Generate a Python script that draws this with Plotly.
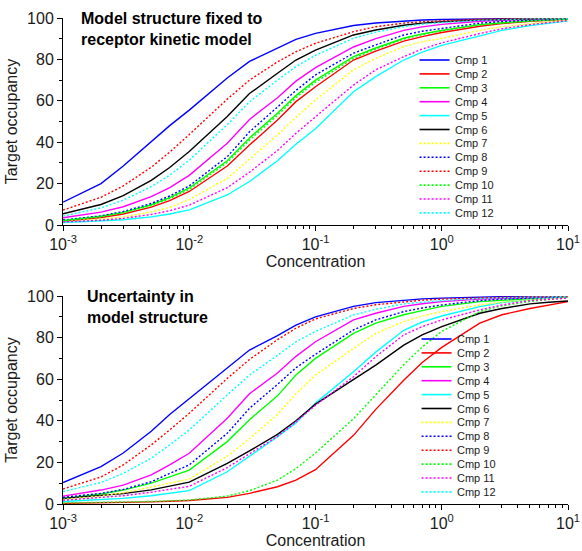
import plotly.graph_objects as go
from plotly.subplots import make_subplots

# ---------------- data ----------------
conc = [0.001, 0.002, 0.003, 0.005, 0.007, 0.01, 0.02, 0.03, 0.05, 0.07,
        0.1, 0.2, 0.3, 0.5, 0.7, 1, 2, 3, 5, 7, 10]

names = ["Cmp 1", "Cmp 2", "Cmp 3", "Cmp 4", "Cmp 5", "Cmp 6",
         "Cmp 7", "Cmp 8", "Cmp 9", "Cmp 10", "Cmp 11", "Cmp 12"]

x_tick_vals = [0.001, 0.01, 0.1, 1, 10]
x_tick_text = ["10<sup>-3</sup>", "10<sup>-2</sup>", "10<sup>-1</sup>", "10<sup>0</sup>", "10<sup>1</sup>"]
x_minor_vals = [m * d for d in (0.001, 0.01, 0.1, 1) for m in (2, 3, 4, 5, 6, 7, 8, 9)]

# top panel: model structure fixed to receptor kinetic model
top_cmp1 = [11, 20, 28.5, 40, 48, 55.5, 71, 79, 85.5, 89.7, 92.6, 96.4, 97.6, 98.6, 99, 99.3, 99.6, 99.7, 99.8, 99.9, 99.9]
top_cmp2 = [1.8, 3.6, 5.3, 8.6, 11.8, 16.2, 28.5, 38.6, 50.7, 59.6, 66.8, 79.7, 84, 88.8, 91, 93, 96, 97.3, 98.4, 98.9, 99.4]
top_cmp3 = [2.2, 4.2, 6.1, 9.8, 13.2, 17.9, 31, 42, 54, 62.5, 70, 81.3, 85.5, 90.2, 92.3, 94, 96.8, 97.8, 98.7, 99.1, 99.5]
top_cmp4 = [3.5, 6.2, 8.8, 13.7, 18.1, 24, 39.5, 51, 61.5, 69.5, 76, 86, 90, 94, 95.7, 96.9, 98.4, 99, 99.4, 99.5, 99.7]
top_cmp5 = [1.2, 1.8, 2.5, 3.9, 5.3, 7.3, 14.5, 21, 31, 39, 46.5, 64.4, 71.7, 79.7, 83.5, 86.8, 91.5, 94, 96.3, 97.5, 98.6]
top_cmp6 = [5.4, 9.9, 14.2, 21.6, 27.8, 35.5, 52.4, 63.5, 73.3, 79.7, 84.5, 91.8, 94.2, 96.5, 97.5, 98.2, 99.1, 99.4, 99.6, 99.7, 99.8]
top_cmp7 = [1.8, 2.8, 3.9, 6.3, 8.5, 12.3, 22.5, 32, 43.5, 52, 60.4, 75, 80.5, 86.2, 88.5, 90.2, 94, 95.8, 97.4, 98.2, 99]
top_cmp8 = [2.4, 4.4, 6.5, 10.4, 14, 18.9, 33, 45, 57, 65, 72.5, 83, 87, 91.8, 93.6, 95, 97.5, 98.3, 99, 99.3, 99.6]
top_cmp9 = [7.2, 13.4, 18.9, 27.9, 35.2, 43.7, 60.8, 70, 78.8, 83.7, 87.8, 93.4, 95.8, 97.5, 98.2, 98.7, 99.4, 99.6, 99.7, 99.8, 99.9]
top_cmp10 = [2.1, 4, 5.9, 9.4, 12.7, 17.2, 30.2, 41, 53, 61.5, 69, 80.5, 85, 89.8, 92, 93.8, 96.7, 97.7, 98.6, 99, 99.4]
top_cmp11 = [1.5, 2.3, 3.2, 5.1, 6.9, 9.6, 18, 25.5, 36, 44.3, 52.3, 67.6, 75, 81.3, 85, 88, 92.5, 94.8, 96.8, 97.8, 98.8]
top_cmp12 = [4.3, 8.3, 12, 18.5, 24.1, 31.3, 48.5, 59.5, 70, 76.5, 82, 90.2, 93.2, 95.8, 97, 97.8, 98.9, 99.3, 99.6, 99.7, 99.8]

# bottom panel: uncertainty in model structure
bot_cmp1 = [10.3, 18, 24.5, 35, 43, 50.5, 65.5, 74, 81, 86, 90, 95, 96.8, 98, 98.6, 99, 99.5, 99.7, 99.8, 99.9, 99.9]
bot_cmp2 = [0.3, 0.5, 0.7, 1, 1.3, 1.7, 3.2, 5.1, 8.3, 11.5, 16.5, 33, 45.5, 59.5, 68, 75.3, 87, 91, 94, 95.7, 97.3]
bot_cmp3 = [2.7, 4.8, 6.7, 10, 13, 16.3, 30, 40.5, 52, 62, 70, 82, 87, 91, 93, 95, 97.3, 98, 98.8, 99.2, 99.5]
bot_cmp4 = [3.8, 6.7, 9.1, 14, 18.8, 24.4, 41.2, 53, 63, 71, 78, 88.5, 91.7, 95, 96.3, 97.3, 98.5, 99, 99.3, 99.5, 99.6]
bot_cmp5 = [1.2, 2, 2.7, 4, 5, 6.4, 15.5, 22.8, 32.4, 39, 48.5, 63.6, 73, 83.5, 87.5, 90.4, 94.9, 96.8, 98.2, 98.9, 99.5]
bot_cmp6 = [2.7, 4, 5, 6.8, 8.5, 10.5, 19.5, 25.5, 33.5, 40, 48, 59.6, 66.8, 76.4, 81.3, 85.3, 91.7, 94, 96.2, 97, 97.6]
bot_cmp7 = [2.2, 3.8, 5.4, 8, 10, 12, 23, 31.5, 43, 53, 62, 74.8, 82, 87.7, 90.4, 92.5, 95.7, 97, 98.2, 98.8, 99.3]
bot_cmp8 = [3.2, 5.1, 7, 10.7, 14.7, 18.8, 34, 46, 57.5, 65.5, 72, 83.7, 88.5, 92.5, 94.2, 95.7, 97.8, 98.5, 99, 99.3, 99.5]
bot_cmp9 = [7.2, 13, 18.8, 28.4, 35.6, 43.6, 60.4, 69.5, 79, 84.5, 89, 94, 95.8, 97.3, 98, 98.5, 99.2, 99.4, 99.6, 99.7, 99.8]
bot_cmp10 = [0.5, 0.7, 0.9, 1.2, 1.5, 1.9, 3.8, 6.4, 11.5, 17, 24.5, 41, 52.5, 67, 75.5, 83, 92.5, 95.3, 97.4, 98.4, 99.2]
bot_cmp11 = [1.8, 3, 4, 5.7, 7, 8.5, 17.5, 24, 32.5, 39.5, 47.5, 61.2, 70.8, 81.3, 85.3, 88.5, 93.3, 95.7, 97.8, 98.4, 99]
bot_cmp12 = [6, 10.3, 14.7, 22, 28.4, 35.6, 52.4, 62, 71.5, 78, 83, 90.9, 93.6, 96.2, 97, 97.8, 98.8, 99.2, 99.5, 99.6, 99.7]

top_series = [top_cmp1, top_cmp2, top_cmp3, top_cmp4, top_cmp5, top_cmp6,
              top_cmp7, top_cmp8, top_cmp9, top_cmp10, top_cmp11, top_cmp12]
bot_series = [bot_cmp1, bot_cmp2, bot_cmp3, bot_cmp4, bot_cmp5, bot_cmp6,
              bot_cmp7, bot_cmp8, bot_cmp9, bot_cmp10, bot_cmp11, bot_cmp12]

panel_titles = ["Model structure fixed to<br>receptor kinetic model",
                "Uncertainty in<br>model structure"]
x_title = "Concentration"
y_title = "Target occupancy"

# ---------------- styles ----------------
colors = ["#0000FF", "#FF0000", "#00FF00", "#FF00FF", "#00FFFF", "#000000",
          "#FFFF00", "#0000FF", "#FF0000", "#00FF00", "#FF00FF", "#00FFFF"]
dashes = ["solid"] * 6 + ["2px,2px"] * 6

W, H = 582, 551
L, R = 63.3, 568.5           # plot area left/right (px)
TOP_Y = (18, 225)            # top panel px (top, bottom)
BOT_Y = (296, 504)           # bottom panel px
FONT = "Arial, Liberation Sans, sans-serif"
TXT = "#1a1a1a"

mt = TOP_Y[0]
mb = H - BOT_Y[1]
ph = BOT_Y[1] - TOP_Y[0]


def py2paper(py):
    return (BOT_Y[1] - py) / ph


def px2paper(px):
    return (px - L) / (R - L)


fig = make_subplots(rows=2, cols=1, vertical_spacing=0.0)

for row, series in ((1, top_series), (2, bot_series)):
    for i, vals in enumerate(series):
        fig.add_trace(go.Scatter(
            x=conc, y=vals, mode="lines", name=names[i],
            line=dict(color=colors[i], dash=dashes[i], width=1.4),
            showlegend=False, hoverinfo="skip"), row=row, col=1)

axis_common = dict(showline=True, linecolor="black", linewidth=1,
                   ticks="outside", tickcolor="black", ticklen=5, tickwidth=1,
                   showgrid=False, zeroline=False, mirror=False, automargin=False,
                   tickfont=dict(family=FONT, size=16, color=TXT))

for r in (1, 2):
    fig.update_xaxes(type="log", range=[-3, 1], tickmode="array",
                     tickvals=x_tick_vals, ticktext=x_tick_text,
                     minor=dict(ticks="outside", ticklen=3, tickvals=x_minor_vals,
                                tickcolor="black", showgrid=False),
                     title=dict(text=x_title, font=dict(family=FONT, size=16, color=TXT), standoff=2),
                     **axis_common, row=r, col=1)
    fig.update_yaxes(range=[0, 100], dtick=20,
                     minor=dict(ticks="outside", ticklen=3, dtick=10, tickcolor="black", showgrid=False),
                     title=dict(text=y_title, font=dict(family=FONT, size=16, color=TXT), standoff=5),
                     **axis_common, row=r, col=1)

fig.update_yaxes(domain=[py2paper(TOP_Y[1]), 1], row=1, col=1)
fig.update_yaxes(domain=[0, py2paper(BOT_Y[0])], row=2, col=1)

annotations = []
shapes = []
# panel titles
for (ptop, pbot), t, tx in ((TOP_Y, panel_titles[0], 79), (BOT_Y, panel_titles[1], 85)):
    annotations.append(dict(text="<b>" + t + "</b>", xref="paper", yref="paper",
                            x=px2paper(tx), y=py2paper(ptop - 10), xanchor="left", yanchor="top",
                            align="left", showarrow=False,
                            font=dict(family=FONT, size=16, color="black")))

# manual legends (compact spacing)
for (first_y, lx0, lx1, tx) in ((60, 420, 450, 453), (339, 422, 452, 455)):
    for i, nm in enumerate(names):
        yy = py2paper(first_y + i * 13.9)
        shapes.append(dict(type="line", xref="paper", yref="paper",
                           x0=px2paper(lx0), x1=px2paper(lx1), y0=yy, y1=yy,
                           line=dict(color=colors[i], dash=dashes[i], width=1.6)))
        annotations.append(dict(text=nm, xref="paper", yref="paper",
                                x=px2paper(tx), y=yy, xanchor="left", yanchor="middle",
                                showarrow=False, font=dict(family=FONT, size=11, color=TXT)))

fig.update_layout(template="none", width=W, height=H,
                  margin=dict(l=L, r=W - R, t=mt, b=mb, autoexpand=False),
                  paper_bgcolor="white", plot_bgcolor="white",
                  annotations=annotations, shapes=shapes, showlegend=False)

fig.write_html("out.html", config={"displayModeBar": False, "staticPlot": True},
               post_script="document.body.style.margin='0px';document.body.style.overflow='hidden';")
